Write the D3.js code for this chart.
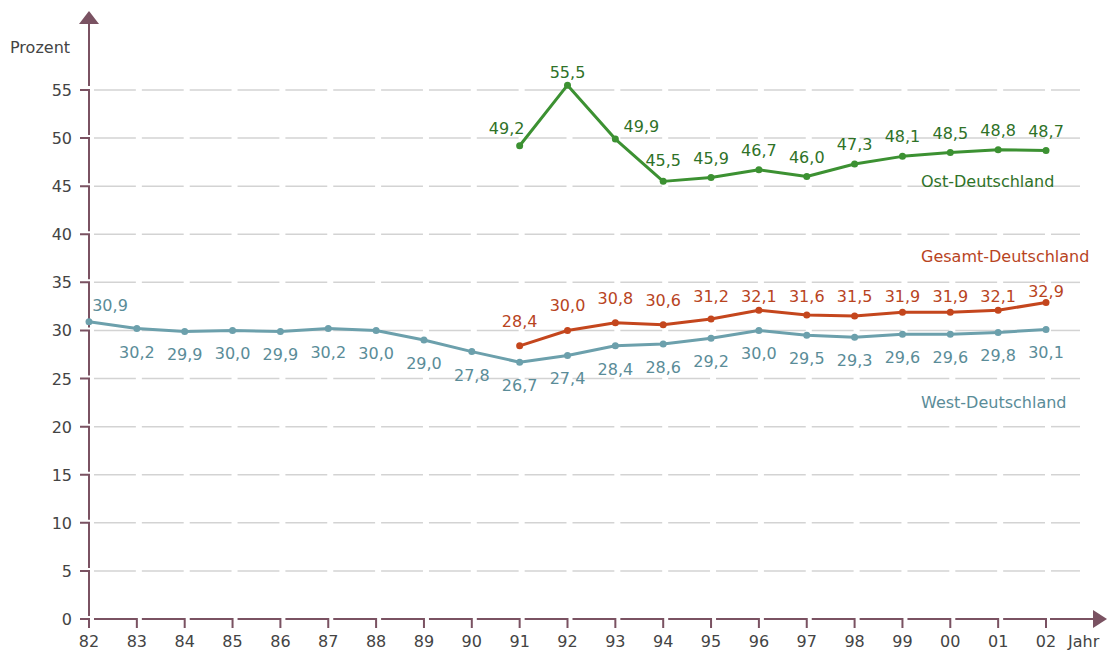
<!DOCTYPE html>
<html lang="de">
<head>
<meta charset="utf-8">
<script src="https://d3js.org/d3.v7.min.js"></script>
<style>
  body { margin: 0; background: #fff; }
  text { font-family: "DejaVu Sans", Verdana, sans-serif; }
</style>
</head>
<body>
<div id="chart"></div>
<script>
// years shown on the x axis
var years = ["82","83","84","85","86","87","88","89","90","91","92","93","94","95","96","97","98","99","00","01","02"];
var yTicks = [0,5,10,15,20,25,30,35,40,45,50,55];

var westYears = years;
var westValues = [30.9,30.2,29.9,30.0,29.9,30.2,30.0,29.0,27.8,26.7,27.4,28.4,28.6,29.2,30.0,29.5,29.3,29.6,29.6,29.8,30.1];

var unifiedYears = ["91","92","93","94","95","96","97","98","99","00","01","02"];
var gesamtValues = [28.4,30.0,30.8,30.6,31.2,32.1,31.6,31.5,31.9,31.9,32.1,32.9];
var ostValues = [49.2,55.5,49.9,45.5,45.9,46.7,46.0,47.3,48.1,48.5,48.8,48.7];

var W = 1107, H = 652;
var axisCol = "#7a5262", gridCol = "#d3d3d3", tickTextCol = "#444";
var fs = 16;

var svg = d3.select("#chart").append("svg")
    .attr("width", W).attr("height", H);

var x = d3.scalePoint().domain(years).range([89, 1046]);
var y = d3.scaleLinear().domain([0, 55]).range([619, 90]);
var step = x.step();

// gridlines, drawn as segments between the year ticks
yTicks.filter(function (v) { return v > 0; }).forEach(function (v) {
    svg.append("g").selectAll("line")
        .data(years)
        .enter().append("line")
        .attr("x1", function (d) { return x(d) + 5; })
        .attr("x2", function (d, i) { return i < years.length - 1 ? x(d) + step - 1 : 1080; })
        .attr("y1", y(v)).attr("y2", y(v))
        .attr("stroke", gridCol).attr("stroke-width", 1.5);
});

// y axis: hooks with short gaps
var axis = svg.append("g").attr("fill", "none").attr("stroke", axisCol).attr("stroke-width", 2);
yTicks.forEach(function (v) {
    var bottom = v === 0 ? 628 : y(v - 5) - 3;
    axis.append("path").attr("d", "M80," + y(v) + "H89V" + bottom);
});
axis.append("path").attr("d", "M89,86V22");
svg.append("path").attr("d", "M79,24L89,11L99,24Z").attr("fill", axisCol);

// x axis
years.forEach(function (d, i) {
    if (i === 0) return;
    var prev = x(years[i - 1]);
    axis.append("path").attr("d", "M" + (prev + 5) + "," + y(0) + "H" + x(d) + "V628");
});
axis.append("path").attr("d", "M1050," + y(0) + "H1094");
svg.append("path").attr("d", "M1093," + (y(0) - 9) + "L1107," + y(0) + "L1093," + (y(0) + 9) + "Z").attr("fill", axisCol);

// tick labels
svg.append("g").selectAll("text").data(yTicks).enter().append("text")
    .attr("x", 72).attr("y", function (d) { return y(d) + 6; })
    .attr("text-anchor", "end").attr("font-size", fs).attr("fill", tickTextCol)
    .text(function (d) { return d; });
svg.append("g").selectAll("text").data(years).enter().append("text")
    .attr("x", function (d) { return x(d); }).attr("y", 647)
    .attr("text-anchor", "middle").attr("font-size", fs).attr("fill", tickTextCol)
    .text(function (d) { return d; });
svg.append("text").attr("x", 1068).attr("y", 647).attr("font-size", fs).attr("fill", tickTextCol).text("Jahr");
svg.append("text").attr("x", 10).attr("y", 53).attr("font-size", fs).attr("fill", tickTextCol).text("Prozent");

var fmt = function (v) { return v.toFixed(1).replace(".", ","); };

function drawSeries(xs, vals, lineCol, textCol, labelFn) {
    var pts = xs.map(function (d, i) { return { yr: d, v: vals[i], i: i }; });
    var line = d3.line().x(function (d) { return x(d.yr); }).y(function (d) { return y(d.v); });
    svg.append("path").datum(pts).attr("d", line)
        .attr("fill", "none").attr("stroke", lineCol).attr("stroke-width", 3)
        .attr("stroke-linejoin", "round");
    svg.append("g").selectAll("circle").data(pts).enter().append("circle")
        .attr("cx", function (d) { return x(d.yr); }).attr("cy", function (d) { return y(d.v); })
        .attr("r", 3.5).attr("fill", lineCol);
    svg.append("g").selectAll("text").data(pts).enter().append("text")
        .each(function (d) {
            var p = labelFn(d);
            d3.select(this).attr("x", x(d.yr) + p[0]).attr("y", p[1]);
        })
        .attr("text-anchor", "middle").attr("font-size", fs).attr("fill", textCol)
        .text(function (d) { return fmt(d.v); });
}

drawSeries(westYears, westValues, "#6ca0ac", "#5a8c98", function (d) {
    return d.i === 0 ? [21, y(d.v) - 11] : [0, y(d.v) + 29];
});
// Gesamt labels sit in a band just under the 35 gridline
drawSeries(unifiedYears, gesamtValues, "#c4461d", "#b8441e", function (d) {
    return [0, Math.min(Math.max(y(d.v) - 19, 302), y(d.v) - 6)];
});
drawSeries(unifiedYears, ostValues, "#3c9132", "#2f7228", function (d) {
    if (d.i === 0) return [-13, y(d.v) - 12];
    if (d.i === 1) return [0, y(d.v) - 7];
    if (d.i === 2) return [26, y(d.v) - 7];
    return [0, Math.min(y(d.v) - 14, 166)];
});

// series names
svg.append("text").attr("x", 921).attr("y", 187).attr("font-size", fs).attr("fill", "#2f7228").text("Ost-Deutschland");
svg.append("text").attr("x", 921).attr("y", 262).attr("font-size", fs).attr("fill", "#b8441e").text("Gesamt-Deutschland");
svg.append("text").attr("x", 921).attr("y", 408).attr("font-size", fs).attr("fill", "#5a8c98").text("West-Deutschland");
</script>
</body>
</html>
